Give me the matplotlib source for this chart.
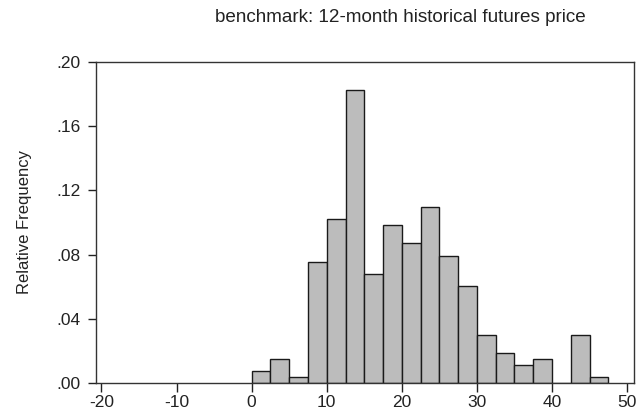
import numpy as np
import matplotlib.pyplot as plt

plt.rcParams["font.family"] = ["Liberation Sans", "DejaVu Sans"]
plt.rcParams["axes.unicode_minus"] = False

# Histogram bins (width 2.5) and relative frequencies
bin_edges = np.arange(0.0, 47.5 + 0.01, 2.5)
rel_freq = [0.0077, 0.0152, 0.0038, 0.0758, 0.1023, 0.1822, 0.0682,
            0.0985, 0.0871, 0.1098, 0.0795, 0.0606, 0.0303, 0.0189,
            0.0114, 0.0152, 0.0, 0.0303, 0.0038]

x_ticks = [-20, -10, 0, 10, 20, 30, 40, 50]
y_ticks = [0.00, 0.04, 0.08, 0.12, 0.16, 0.20]
y_tick_labels = [".00", ".04", ".08", ".12", ".16", ".20"]

fig = plt.figure(figsize=(6.39, 4.15), dpi=100)
ax = fig.add_axes([0.150, 0.076, 0.842, 0.775])

ax.bar(bin_edges[:-1], rel_freq, width=np.diff(bin_edges), align="edge",
       color="#bcbcbc", edgecolor="#1a1a1a", linewidth=1.0)

ax.set_xlim(-20.75, 50.9)
ax.set_ylim(0, 0.2)
ax.set_xticks(x_ticks)
ax.set_yticks(y_ticks)
ax.set_yticklabels(y_tick_labels)
ax.tick_params(direction="out", width=1.0, labelsize=12.5,
               colors="#222222")
ax.tick_params(axis="x", length=6.5, pad=1.5)
ax.tick_params(axis="y", length=6, pad=5)
for s in ax.spines.values():
    s.set_linewidth(1.0)
    s.set_color("#333333")

fig.text(25 / 639, 0.465, "Relative Frequency", rotation=90,
         ha="center", va="center", fontsize=12, color="#222222")
fig.text(0.626, 0.957, "benchmark: 12-month historical futures price",
         ha="center", va="center", fontsize=13.6, color="#222222")

fig.savefig("out.png", dpi=100)
